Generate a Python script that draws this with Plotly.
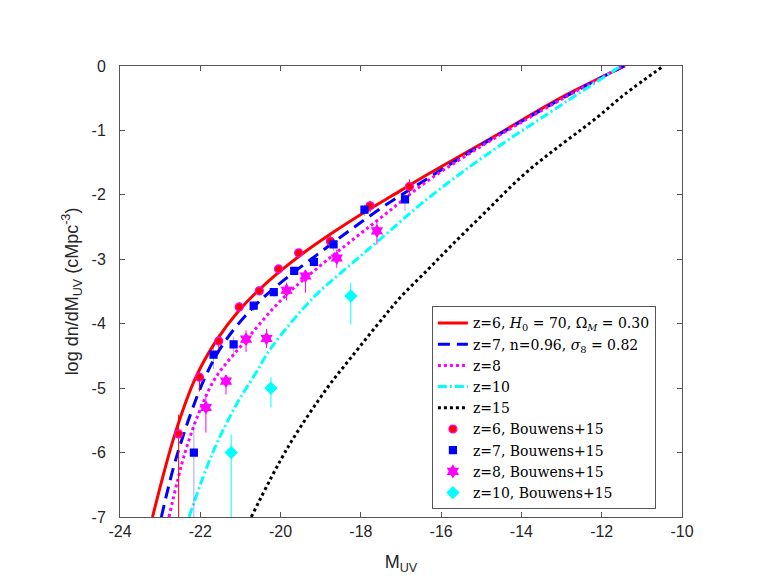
import plotly.graph_objects as go

# model curves (M_UV, log dn/dM)
z6_x = [-23.19, -22.63, -22.11, -21.61, -21.03, -20.32, -19.49, -18.66, -17.83, -17.00, -16.33, -14.67, -13.01, -11.42]
z6_y = [-7.00, -5.71, -4.83, -4.27, -3.79, -3.35, -2.93, -2.57, -2.24, -1.93, -1.68, -1.09, -0.49, 0.00]

z7_x = [-22.97, -22.56, -21.88, -21.38, -20.67, -19.95, -19.07, -18.25, -17.41, -16.50, -15.17, -13.01, -11.45]
z7_y = [-7.00, -6.00, -4.83, -4.27, -3.74, -3.34, -2.92, -2.54, -2.17, -1.81, -1.29, -0.51, 0.00]

z8_x = [-22.78, -22.38, -21.98, -21.61, -20.88, -19.95, -19.07, -18.25, -17.41, -16.33, -14.67, -13.01, -11.47]
z8_y = [-7.00, -6.00, -5.30, -4.83, -4.27, -3.61, -3.13, -2.72, -2.31, -1.78, -1.12, -0.52, 0.00]

z10_x = [-22.28, -21.69, -21.07, -20.65, -20.24, -19.16, -18.25, -17.41, -16.42, -14.92, -12.85, -11.52]
z10_y = [-7.00, -6.00, -5.22, -4.80, -4.38, -3.58, -3.08, -2.63, -2.10, -1.40, -0.54, 0.00]

z15_x = [-20.73, -19.82, -18.83, -18.25, -17.41, -17.00, -16.33, -15.75, -14.92, -13.84, -12.10, -11.43, -10.46]
z15_y = [-7.00, -5.92, -4.99, -4.53, -3.88, -3.58, -3.16, -2.79, -2.28, -1.63, -0.79, -0.44, 0.00]

# Bouwens+15 points with asymmetric errors (dex)
b6_x = [-22.54, -22.02, -21.54, -21.03, -20.53, -20.05, -19.55, -18.76, -17.77, -16.79]
b6_y = [-5.71, -4.83, -4.27, -3.74, -3.49, -3.15, -2.90, -2.72, -2.17, -1.87]
b6_up = [0.30, 0.15, 0.10, 0.07, 0.06, 0.05, 0.05, 0.08, 0.08, 0.11]
b6_dn = [1.50, 0.22, 0.12, 0.08, 0.07, 0.06, 0.06, 0.10, 0.10, 0.10]

b7_x = [-22.16, -21.67, -21.17, -20.67, -20.17, -19.66, -19.17, -18.68, -17.91, -16.90]
b7_y = [-6.00, -4.48, -4.32, -3.72, -3.51, -3.18, -3.04, -2.77, -2.23, -2.07]
b7_up = [0.46, 0.15, 0.12, 0.07, 0.06, 0.06, 0.07, 0.09, 0.08, 0.13]
b7_dn = [1.50, 0.22, 0.16, 0.08, 0.07, 0.07, 0.08, 0.10, 0.10, 0.18]

b8_x = [-21.86, -21.36, -20.86, -20.35, -19.85, -19.38, -18.60, -17.60]
b8_y = [-5.30, -4.89, -4.24, -4.23, -3.48, -3.26, -2.98, -2.56]
b8_up = [0.20, 0.08, 0.14, 0.15, 0.12, 0.08, 0.13, 0.13]
b8_dn = [0.39, 0.21, 0.20, 0.15, 0.16, 0.26, 0.15, 0.21]

b10_x = [-21.23, -20.24, -18.25]
b10_y = [-6.00, -5.00, -3.57]
b10_up = [0.28, 0.17, 0.21]
b10_dn = [1.50, 0.30, 0.44]

x_ticks = [-24, -22, -20, -18, -16, -14, -12, -10]
y_ticks = [0, -1, -2, -3, -4, -5, -6, -7]

fig = go.Figure()

curves = [
    (z6_x, z6_y, "z=6, <i>H</i><sub>0</sub> = 70, Ω<sub><i>M</i></sub> = 0.30", "#ff0000", "solid"),
    (z7_x, z7_y, "z=7, n=0.96, <i>σ</i><sub>8</sub> = 0.82", "#0000ff", "12px,7px"),
    (z8_x, z8_y, "z=8", "#ff00ff", "3px,3px"),
    (z10_x, z10_y, "z=10", "#00ffff", "9px,3px,2px,3px"),
    (z15_x, z15_y, "z=15", "#000000", "3px,3px"),
]
for x, y, name, col, dash in curves:
    fig.add_trace(go.Scatter(x=x, y=y, mode="lines", name=name,
                             line=dict(color=col, dash=dash, width=3,
                                       shape="spline", smoothing=1.0)))

points = [
    (b6_x, b6_y, b6_up, b6_dn, "z=6, Bouwens+15", "circle", 8, "#ff0000", "#ff00ff", "#ff0000"),
    (b7_x, b7_y, b7_up, b7_dn, "z=7, Bouwens+15", "square", 7, "#0000ff", "#0000ff", "rgba(0,0,255,0.35)"),
    (b8_x, b8_y, b8_up, b8_dn, "z=8, Bouwens+15", "hexagram", 9, "#ff00ff", "#ff00ff", "#ff00ff"),
    (b10_x, b10_y, b10_up, b10_dn, "z=10, Bouwens+15", "diamond", 9, "#00ffff", "#00ffff", "#00ffff"),
]
for x, y, up, dn, name, sym, size, fill, edge, ecol in points:
    fig.add_trace(go.Scatter(
        x=x, y=y, mode="markers", name=name,
        marker=dict(symbol=sym, size=size, color=fill, line=dict(color=edge, width=1.2)),
        error_y=dict(type="data", symmetric=False, array=up, arrayminus=dn,
                     color=ecol, thickness=1, width=0)))

tick_font = dict(family="Liberation Sans", size=16, color="#262626")
axis_common = dict(showgrid=False, zeroline=False, showline=True, linecolor="#555555",
                   linewidth=1, mirror="allticks", ticks="inside", ticklen=5,
                   tickcolor="#555555", tickfont=tick_font)

fig.update_xaxes(range=[-24, -10], tickmode="array", tickvals=x_ticks,
                 ticktext=[str(v) for v in x_ticks],
                 title=dict(text="M<sub>UV</sub>", standoff=16,
                            font=dict(family="Liberation Sans", size=18, color="#262626")),
                 **axis_common)
fig.update_yaxes(range=[-7, 0], tickmode="array", tickvals=y_ticks,
                 ticktext=[str(v) for v in y_ticks], ticklabelstandoff=10,
                 title=dict(text="log dn/dM<sub>UV</sub> (cMpc<sup>-3</sup>)", standoff=8,
                            font=dict(family="Liberation Sans", size=18, color="#262626")),
                 **axis_common)

fig.update_layout(
    width=761, height=588,
    margin=dict(l=112, r=87, t=58, b=79),
    paper_bgcolor="white", plot_bgcolor="white",
    showlegend=True,
    legend=dict(x=0.555, y=0.467, xanchor="left", yanchor="top",
                bgcolor="white", bordercolor="#555555", borderwidth=1,
                font=dict(family="DejaVu Serif", size=14, color="black"),
                tracegroupgap=0),
)

fig.write_html("out.html")
